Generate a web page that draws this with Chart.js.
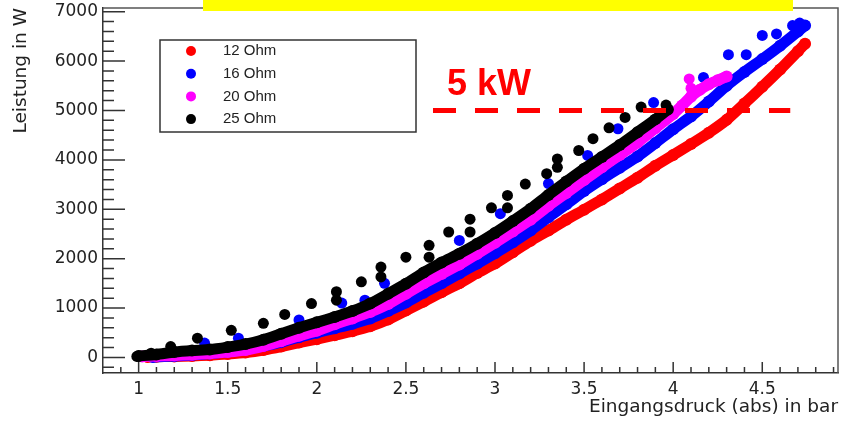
<!DOCTYPE html>
<html>
<head>
<meta charset="utf-8">
<script src="https://cdn.jsdelivr.net/npm/chart.js@4.4.1/dist/chart.umd.min.js"></script>
<style>
  html, body { margin: 0; padding: 0; background: #fff; }
</style>
</head>
<body>
<canvas id="chart" width="850" height="422"></canvas>
<script>
// ── Data ──
// [Eingangsdruck in bar, Leistung in W] along the dense band of each series
const band12 = [[1.05,10],[1.10,15],[1.20,20],[1.30,30],[1.40,45],[1.50,70],[1.60,100],[1.70,150],[1.80,220],[1.90,300],
  [2.00,370],[2.10,450],[2.20,530],[2.30,630],[2.40,770],[2.50,950],[2.60,1130],[2.70,1320],[2.80,1500],[2.90,1710],
  [3.00,1900],[3.10,2130],[3.20,2360],[3.30,2570],[3.40,2790],[3.50,2990],[3.60,3200],[3.70,3420],[3.80,3640],[3.90,3880],
  [4.00,4100],[4.10,4320],[4.20,4550],[4.30,4810],[4.40,5140],[4.50,5480],[4.60,5830],[4.70,6200],[4.74,6350]];
const band16 = [[1.08,10],[1.20,30],[1.30,50],[1.40,80],[1.50,115],[1.60,165],[1.70,230],[1.80,310],[1.90,410],
  [2.00,500],[2.10,590],[2.20,680],[2.30,790],[2.40,940],[2.50,1110],[2.60,1310],[2.70,1500],[2.80,1700],[2.90,1900],
  [3.00,2110],[3.10,2330],[3.20,2570],[3.30,2840],[3.40,3100],[3.50,3370],[3.60,3610],[3.70,3840],[3.80,4070],[3.90,4340],
  [4.00,4620],[4.10,4880],[4.20,5180],[4.30,5500],[4.40,5780],[4.50,6040],[4.60,6310],[4.70,6600],[4.74,6720]];
const band20 = [[1.02,20],[1.10,30],[1.20,40],[1.30,55],[1.40,80],[1.50,110],[1.60,150],[1.70,230],[1.80,330],[1.90,440],
  [2.00,540],[2.10,670],[2.20,790],[2.30,920],[2.40,1080],[2.50,1290],[2.60,1500],[2.70,1690],[2.80,1880],[2.90,2100],
  [3.00,2320],[3.10,2550],[3.20,2790],[3.30,3070],[3.40,3330],[3.50,3590],[3.60,3850],[3.70,4100],[3.80,4350],[3.90,4640],
  [4.00,4930],[4.05,5100],[4.10,5280],[4.15,5420],[4.20,5530],[4.25,5610],[4.30,5690]];
const band25 = [[1.00,30],[1.10,60],[1.20,110],[1.30,140],[1.40,160],[1.50,210],[1.60,270],[1.70,360],[1.80,480],[1.90,600],
  [2.00,710],[2.10,820],[2.20,940],[2.30,1090],[2.40,1290],[2.50,1490],[2.60,1720],[2.70,1920],[2.80,2100],[2.90,2300],
  [3.00,2520],[3.10,2760],[3.20,3010],[3.30,3290],[3.40,3560],[3.50,3820],[3.60,4060],[3.70,4300],[3.80,4560],[3.90,4820],
  [3.97,5020]];

// single points standing off the bands
const extra16 = [[1.37,290],[1.56,390],[1.90,760],[2.14,1100],[2.27,1160],[2.38,1500],[2.80,2370],[3.03,2910],[3.30,3520],
  [3.52,4090],[3.69,4630],[3.89,5160],[4.17,5670],[4.31,6130],[4.41,6130],[4.50,6520],[4.58,6550],[4.67,6720],[4.71,6770]];
const extra20 = [[4.09,5640],[4.10,5450]];
const extra25 = [[0.99,20],[1.07,85],[1.18,220],[1.33,390],[1.52,550],[1.70,690],[1.82,870],[1.97,1090],[2.11,1330],
  [2.11,1160],[2.25,1530],[2.36,1830],[2.36,1630],[2.50,2030],[2.63,2270],[2.63,2030],[2.74,2540],[2.86,2800],[2.86,2540],
  [2.98,3030],[3.07,3280],[3.07,3030],[3.17,3510],[3.29,3720],[3.35,4020],[3.35,3850],[3.47,4190],[3.55,4430],[3.64,4650],
  [3.73,4860],[3.82,5070],[3.96,5110]];

const limit5kW = [[2.652,5000],[4.657,5000]];

const seriesNames = ['12 Ohm', '16 Ohm', '20 Ohm', '25 Ohm'];
const seriesColors = ['#ff0000', '#0000ff', '#ff00ff', '#000000'];
const xTicks = [1, 1.5, 2, 2.5, 3, 3.5, 4, 4.5];
const yTicks = [0, 1000, 2000, 3000, 4000, 5000, 6000, 7000];

const pts = arr => arr.map(p => ({ x: p[0], y: p[1] }));

function bandSet(data, color) {
  return {
    data: pts(data), showLine: true, borderColor: color, backgroundColor: color,
    borderWidth: 11, borderJoinStyle: 'round', borderCapStyle: 'round', tension: 0.2,
    pointRadius: 6, pointBorderWidth: 0, pointHoverRadius: 6
  };
}
function dotSet(data, color) {
  return {
    data: pts(data), showLine: false, backgroundColor: color, borderColor: color,
    pointRadius: 5.5, pointBorderWidth: 0, pointHoverRadius: 5.5
  };
}

// ── ROOT style frame, inward ticks, legend, labels ──
const rootDecor = {
  id: 'rootDecor',
  afterDraw(chart) {
    const ctx = chart.ctx;
    const a = chart.chartArea;
    const x = chart.scales.x;
    const y = chart.scales.y;
    ctx.save();

    // top / right frame
    ctx.strokeStyle = '#555';
    ctx.lineWidth = 1.5;
    ctx.beginPath();
    ctx.moveTo(a.left, a.top);
    ctx.lineTo(a.right, a.top);
    ctx.lineTo(a.right, a.bottom);
    ctx.stroke();

    // ticks pointing into the plot
    ctx.strokeStyle = '#333';
    ctx.lineWidth = 1.5;
    ctx.beginPath();
    for (let i = -1; i <= 35; i++) {
      const py = y.getPixelForValue(i * 200);
      if (py < a.top || py > a.bottom) continue;
      const len = i % 5 === 0 ? 22 : 11;
      ctx.moveTo(a.left, py);
      ctx.lineTo(a.left + len, py);
    }
    for (let i = 9; i <= 49; i++) {
      const px = x.getPixelForValue(i / 10);
      if (px < a.left || px > a.right) continue;
      const len = i % 5 === 0 ? 11 : 6;
      ctx.moveTo(px, a.bottom);
      ctx.lineTo(px, a.bottom - len);
    }
    ctx.stroke();

    // legend box
    ctx.strokeStyle = '#333';
    ctx.lineWidth = 1.5;
    ctx.fillStyle = '#fff';
    ctx.fillRect(160, 40, 256, 92);
    ctx.strokeRect(160, 40, 256, 92);
    ctx.font = '15px "Liberation Sans", Arial, sans-serif';
    ctx.textBaseline = 'middle';
    seriesNames.forEach((name, i) => {
      const ry = 51 + i * 22.7;
      ctx.fillStyle = seriesColors[i];
      ctx.beginPath();
      ctx.arc(191, ry, 5, 0, Math.PI * 2);
      ctx.fill();
      ctx.fillStyle = '#222';
      ctx.fillText(name, 223, ry);
    });

    // 5 kW label
    ctx.fillStyle = '#ff0000';
    ctx.font = 'bold 36px "Liberation Sans", Arial, sans-serif';
    ctx.textBaseline = 'alphabetic';
    ctx.fillText('5 kW', x.getPixelForValue(2.73), y.getPixelForValue(5310));

    // yellow title strip cut off at the top
    ctx.fillStyle = '#ffff00';
    ctx.fillRect(203, 0, 590, 11);

    ctx.restore();
  }
};

const xTickFont = { family: 'DejaVu Sans', size: 17 };
const yTickFont = { family: 'DejaVu Sans', size: 17, lineHeight: 0.3 };
const titleFont = { family: 'DejaVu Sans', size: 18.5 };

new Chart(document.getElementById('chart'), {
  type: 'scatter',
  data: {
    datasets: [
      { data: pts(limit5kW), showLine: true, borderColor: '#ff0000', borderWidth: 5, borderDash: [23, 19], pointRadius: 0, pointHoverRadius: 0 },
      dotSet(extra25, seriesColors[3]),
      bandSet(band25, seriesColors[3]),
      dotSet(extra20, seriesColors[2]),
      bandSet(band20, seriesColors[2]),
      dotSet(extra16, seriesColors[1]),
      bandSet(band16, seriesColors[1]),
      bandSet(band12, seriesColors[0])
    ]
  },
  options: {
    responsive: false,
    devicePixelRatio: 1,
    animation: false,
    layout: { padding: { left: 0, right: 12, top: 8, bottom: 0 } },
    plugins: { legend: { display: false }, tooltip: { enabled: false } },
    scales: {
      x: {
        type: 'linear', min: 0.8, max: 4.925,
        afterBuildTicks: s => { s.ticks = xTicks.map(v => ({ value: v })); },
        afterFit: s => { s.height = 49; },
        grid: { display: false, drawTicks: false },
        border: { display: true, color: '#333', width: 1.5 },
        ticks: { font: xTickFont, color: '#222', padding: 6, maxRotation: 0, autoSkip: false, callback: v => String(v) },
        title: { display: true, text: 'Eingangsdruck (abs) in bar', align: 'end', color: '#222', font: titleFont, padding: { top: 0, bottom: 4 } }
      },
      y: {
        type: 'linear', min: -315, max: 7075,
        afterBuildTicks: s => { s.ticks = yTicks.map(v => ({ value: v })); },
        afterFit: s => { s.width = 103; },
        grid: { display: false, drawTicks: false },
        border: { display: true, color: '#333', width: 1.5 },
        ticks: { font: yTickFont, color: '#222', padding: 5, autoSkip: false, callback: v => String(v) },
        title: { display: true, text: 'Leistung in W', align: 'end', color: '#222', font: titleFont, padding: { top: 10, bottom: 0 } }
      }
    }
  },
  plugins: [rootDecor]
});
</script>
</body>
</html>
